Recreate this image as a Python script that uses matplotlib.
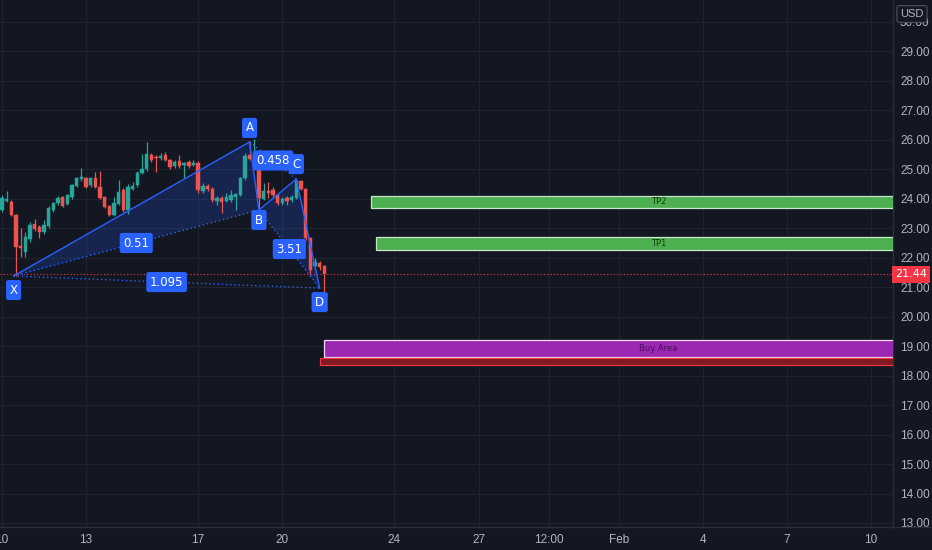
import numpy as np
import pandas as pd
import matplotlib
matplotlib.use("Agg")
import matplotlib.pyplot as plt
import matplotlib.dates as mdates
import matplotlib.transforms as mtransforms
from matplotlib.patches import Rectangle, Polygon

plt.rcParams["font.family"] = ["Liberation Sans", "DejaVu Sans"]
LABEL_FONT = ["DejaVu Sans"]

# ---------------- data ----------------
start_time = "2025-01-10 00:00"
opens = [23.62, 23.93, 23.90, 23.45, 22.40, 22.20, 22.64, 23.14, 23.05, 22.87,
         23.08, 23.62, 23.86, 24.06, 23.83, 24.06, 24.44, 24.68, 24.71, 24.47,
         24.71, 24.40, 24.06, 23.76, 23.45, 23.83, 24.30, 23.62, 24.33, 24.47,
         24.88, 25.01, 25.49, 25.42, 25.39, 25.49, 25.32, 25.12, 25.28, 25.15,
         25.25, 25.15, 25.22, 24.25, 24.42, 24.33, 23.93, 24.02, 23.93, 23.96,
         24.06, 24.13, 24.71, 25.49, 25.40, 25.45, 23.99, 24.27, 24.30, 24.13,
         23.86, 24.03, 23.96, 24.03, 24.60, 24.33, 22.67, 21.72, 21.82, 21.72]
highs = [24.13, 24.27, 23.95, 23.50, 23.00, 22.87, 23.20, 23.30, 23.10, 23.28,
         23.75, 23.90, 24.08, 24.10, 24.16, 24.50, 24.74, 25.05, 24.75, 24.74,
         24.91, 24.94, 24.10, 23.80, 24.06, 24.64, 24.35, 24.50, 24.57, 24.95,
         25.52, 25.93, 25.55, 25.48, 25.55, 25.60, 25.35, 25.30, 25.49, 25.25,
         25.30, 25.30, 25.28, 24.55, 24.50, 24.40, 24.08, 24.08, 24.20, 24.30,
         24.20, 24.75, 25.55, 25.93, 26.02, 25.50, 24.53, 24.57, 24.40, 24.18,
         24.05, 24.08, 24.12, 24.67, 24.65, 24.36, 22.70, 21.99, 21.90, 21.76]
lows = [23.55, 23.88, 23.40, 21.38, 22.02, 22.02, 22.55, 22.90, 22.67, 22.80,
        23.00, 23.55, 23.80, 23.72, 23.78, 24.00, 24.40, 24.62, 24.35, 24.40,
        24.35, 23.98, 23.68, 23.40, 23.40, 23.80, 23.55, 23.50, 24.30, 24.40,
        24.85, 24.95, 25.25, 24.91, 25.30, 25.28, 25.02, 25.05, 25.05, 24.71,
        25.05, 25.10, 24.20, 24.20, 24.25, 23.90, 23.79, 23.52, 23.88, 23.90,
        23.62, 24.10, 24.65, 25.30, 25.35, 23.62, 23.95, 24.03, 24.05, 23.80,
        23.80, 23.79, 23.90, 23.98, 24.30, 22.60, 21.42, 21.65, 21.60, 20.72]
closes = [24.03, 24.00, 23.45, 22.37, 22.32, 22.70, 23.11, 22.98, 22.87, 23.11,
          23.69, 23.86, 24.03, 23.76, 24.13, 24.47, 24.71, 24.74, 24.40, 24.71,
          24.40, 24.03, 23.72, 23.45, 23.86, 24.23, 23.62, 24.40, 24.44, 24.88,
          25.01, 25.52, 25.32, 25.39, 25.45, 25.32, 25.08, 25.25, 25.12, 25.20,
          25.12, 25.20, 24.30, 24.42, 24.32, 23.96, 24.02, 23.90, 24.06, 24.13,
          24.16, 24.71, 25.45, 25.35, 25.47, 24.03, 24.27, 24.20, 24.13, 23.86,
          24.00, 23.93, 24.06, 24.60, 24.33, 22.67, 21.58, 21.86, 21.69, 21.44]

# harmonic pattern points
pattern_names = ["X", "A", "B", "C", "D"]
pattern_times = ["2025-01-10 10:00", "2025-01-18 20:00", "2025-01-19 04:00",
                 "2025-01-20 12:00", "2025-01-21 08:00"]
pattern_prices = [21.38, 25.93, 23.62, 24.67, 20.97]
ratio_pairs = [("X", "B"), ("A", "C"), ("B", "D"), ("X", "D")]
ratio_texts = ["0.51", "0.458", "3.51", "1.095"]

# zones
zone_names = ["TP2", "TP1", "Buy Area", ""]
zone_starts = ["2025-01-23 04:00", "2025-01-23 08:00", "2025-01-21 12:00", "2025-01-21 08:00"]
zone_ends = ["2025-02-12 16:00", "2025-02-12 12:00", "2025-02-14 08:00", "2025-02-14 08:00"]
zone_tops = [24.10, 22.70, 19.21, 18.60]
zone_bottoms = [23.69, 22.26, 18.63, 18.36]

# axis labels
x_tick_times = ["2025-01-10 00:00", "2025-01-13 00:00", "2025-01-17 00:00", "2025-01-20 00:00",
                "2025-01-24 00:00", "2025-01-27 00:00", "2025-01-29 12:00", "2025-02-01 00:00",
                "2025-02-04 00:00", "2025-02-07 00:00", "2025-02-10 00:00"]
x_tick_labels = ["10", "13", "17", "20", "24", "27", "12:00", "Feb", "4", "7", "10"]
y_ticks = list(range(13, 31))
currency = "USD"

# ---------------- style ----------------
BG = "#131722"
GRID = "#1f232e"
TXT = "#b2b5be"
UP = "#26a69a"
DOWN = "#ef5350"
BLUE = "#2962ff"
zone_faces = ["#4caf50", "#4caf50", "#9c27b0", "#801922"]
zone_edges = ["#c8e6c9", "#c8e6c9", "#f3d9f7", "#f23645"]
zone_text_colors = ["#0d3b10", "#0d3b10", "#4a0e5c", "#000000"]


def tn(s):
    return mdates.date2num(pd.Timestamp(s).to_pydatetime())


fig = plt.figure(figsize=(9.32, 5.5), dpi=100, facecolor=BG)
ax = fig.add_axes([0, 23 / 550, 893 / 932, 527 / 550])
ax.set_facecolor(BG)

times = pd.date_range(pd.Timestamp(start_time), periods=len(opens), freq="4h")
tnum = mdates.date2num(times.to_pydatetime())
bar_days = 4 / 24

# grid
for yt in y_ticks:
    ax.axhline(yt, color=GRID, lw=0.8, zorder=0)
xt_num = [tn(s) for s in x_tick_times]
for xv in xt_num:
    ax.axvline(xv, color=GRID, lw=0.8, zorder=0)

# candles
o = np.array(opens); h = np.array(highs); l = np.array(lows); c = np.array(closes)
cols = np.where(c >= o, UP, DOWN)
ax.vlines(tnum, l, h, colors=cols, lw=0.9, zorder=3)
body_bottom = np.minimum(o, c)
body_h = np.maximum(np.abs(c - o), 0.04)
ax.bar(tnum, body_h, bottom=body_bottom, width=bar_days * 0.72, color=cols,
       edgecolor=cols, linewidth=0.3, zorder=4)

# pattern
pt = {n: (tn(t), p) for n, t, p in zip(pattern_names, pattern_times, pattern_prices)}
for tri in [("X", "A", "B"), ("B", "C", "D")]:
    ax.add_patch(Polygon([pt[k] for k in tri], closed=True, facecolor=BLUE,
                         alpha=0.2, edgecolor="none", zorder=2))
for a, b in [("X", "A"), ("A", "B"), ("B", "C"), ("C", "D")]:
    ax.plot([pt[a][0], pt[b][0]], [pt[a][1], pt[b][1]], color=BLUE, lw=1.0, zorder=5)
for a, b in ratio_pairs:
    ax.plot([pt[a][0], pt[b][0]], [pt[a][1], pt[b][1]], color=BLUE, lw=1.0,
            ls=(0, (1, 2)), zorder=5)

label_offsets = {"X": -14, "A": 14, "B": -10, "C": 15, "D": -14}
for n in pattern_names:
    ax.annotate(n, xy=pt[n], xytext=(0, label_offsets[n]), textcoords="offset pixels",
                ha="center", va="center", color="white", fontsize=8.5, zorder=8,
                family=LABEL_FONT,
                bbox=dict(boxstyle="round,pad=0.3,rounding_size=0.2", fc=BLUE, ec="none"))
for (a, b), txt in zip(ratio_pairs, ratio_texts):
    mx = (pt[a][0] + pt[b][0]) / 2
    my = (pt[a][1] + pt[b][1]) / 2
    ax.text(mx, my, txt, ha="center", va="center", color="white", fontsize=8.5,
            zorder=8, family=LABEL_FONT,
            bbox=dict(boxstyle="round,pad=0.3,rounding_size=0.2", fc=BLUE, ec="none"))

# zones
for name, s, e, top, bot, fc, ec, tc in zip(zone_names, zone_starts, zone_ends, zone_tops,
                                             zone_bottoms, zone_faces, zone_edges, zone_text_colors):
    sx = tn(s)
    ex = tn(e)
    ax.add_patch(Rectangle((sx, bot), ex - sx, top - bot, facecolor=fc, edgecolor=ec,
                           lw=0.9, zorder=6))
    if name:
        ax.text((sx + ex) / 2, (top + bot) / 2, name, ha="center", va="center",
                fontsize=6, color=tc, zorder=7, family=LABEL_FONT)

# current price line and label
last = closes[-1]
ax.axhline(last, color="#f23645", lw=0.8, ls=(0, (1, 2)), zorder=3)
trans = mtransforms.blended_transform_factory(ax.transAxes, ax.transData)
ax.text(1 + 18 / 893, last, f"{last:.2f}", transform=trans, ha="center", va="center",
        color="white", fontsize=8, zorder=10, clip_on=False, family=LABEL_FONT,
        bbox=dict(boxstyle="square,pad=0.3", fc="#f23645", ec="none"))

# limits
ax.set_xlim(tnum[0] - 0.41 * bar_days, tnum[0] + 190.7 * bar_days)
ax.set_ylim(12.864, 30.746)

# ticks
ax.set_xticks(xt_num)
ax.set_xticklabels(x_tick_labels)
ax.yaxis.tick_right()
ax.set_yticks(y_ticks)
ax.set_yticklabels([f"{v:.2f}" for v in y_ticks])
ax.tick_params(axis="both", length=0, colors=TXT, labelsize=8.5)
ax.tick_params(axis="y", pad=5)
ax.tick_params(axis="x", pad=5)

for s in ["top", "left"]:
    ax.spines[s].set_visible(False)
ax.spines["right"].set_color("#2a2e39")
ax.spines["bottom"].set_color("#2a2e39")
ax.spines["right"].set_linewidth(1)
ax.spines["bottom"].set_linewidth(1)

# bottom separator extended under price scale
fig.add_artist(plt.Line2D([893 / 932, 1], [23 / 550, 23 / 550], color="#2a2e39", lw=1,
                          transform=fig.transFigure))

# currency box
fig.text(912 / 932, 1 - 14 / 550, currency, ha="center", va="center", color=TXT,
         fontsize=8, zorder=20,
         bbox=dict(boxstyle="round,pad=0.3,rounding_size=0.2", fc=BG, ec="#50535e", lw=0.8))

fig.savefig("out.png", dpi=100, facecolor=BG)
